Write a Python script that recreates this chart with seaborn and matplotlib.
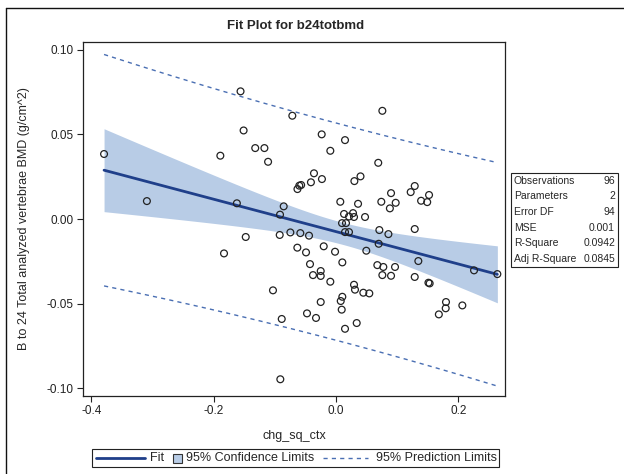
import matplotlib
matplotlib.use("Agg")
import matplotlib.pyplot as plt
from matplotlib.lines import Line2D
from matplotlib.patches import Rectangle
import seaborn as sns
import numpy as np
import pandas as pd

# ---------------- DATA ----------------
chg_sq_ctx = [
    -0.379, -0.309, -0.189, -0.156, -0.0714, -0.151, -0.0234, 0.0147, -0.132, -0.117,
    -0.0093, -0.111, -0.036, -0.041, -0.023, -0.063, -0.060, -0.057, 0.030, 0.040,
    -0.162, -0.0855, -0.0915, 0.007, 0.036, 0.0131, 0.0212, 0.0278, 0.0294, 0.0474,
    0.0098, 0.0163, 0.0147, 0.0212, 0.0757, 0.069, 0.0899, 0.122, 0.1286, 0.139,
    0.149, 0.152, 0.074, 0.088, 0.0975, 0.0708, 0.0856, 0.1286, 0.0697, 0.0495,
    0.0103, 0.0675, 0.0773, 0.0757, 0.0899, 0.0964, 0.1345, 0.1286, 0.151, 0.153,
    0.2255, 0.2636, 0.0294, 0.031, 0.0446, 0.0544, 0.1797, 0.1792, 0.168, 0.2064,
    0.0103, 0.0077, 0.0093, 0.0338, 0.0147, -0.1475, -0.183, -0.092, -0.0746, -0.0583,
    -0.0441, -0.0632, -0.049, -0.0201, -0.0016, -0.0425, -0.0376, -0.025, -0.025, -0.0093,
    -0.103, -0.025, -0.0474, -0.0327, -0.0887, -0.091,
]
b24totbmd = [
    0.0384, 0.0106, 0.0374, 0.0754, 0.061, 0.0523, 0.050, 0.0466, 0.0419, 0.0419,
    0.0403, 0.0338, 0.027, 0.0217, 0.0236, 0.0177, 0.0197, 0.0201, 0.0224, 0.0252,
    0.0093, 0.0075, 0.0026, 0.0102, 0.009, 0.0030, 0.0015, 0.0035, 0.0012, 0.0012,
    -0.0024, -0.0024, -0.0077, -0.0077, 0.0639, 0.0332, 0.0153, 0.0159, 0.0195, 0.0108,
    0.010, 0.0142, 0.0102, 0.0063, 0.0096, -0.0065, -0.0089, -0.0059, -0.0146, -0.0187,
    -0.0256, -0.0272, -0.0283, -0.0331, -0.0335, -0.0283, -0.0248, -0.0342, -0.0376, -0.0380,
    -0.0303, -0.0325, -0.0388, -0.0417, -0.0435, -0.0439, -0.049, -0.0527, -0.0563, -0.051,
    -0.0459, -0.0484, -0.0535, -0.0614, -0.0648, -0.0106, -0.0203, -0.0094, -0.0079, -0.0083,
    -0.0098, -0.0169, -0.0197, -0.0161, -0.0193, -0.0266, -0.0331, -0.0307, -0.0336, -0.037,
    -0.0421, -0.049, -0.0557, -0.0584, -0.059, -0.0946,
]

stat_labels = ["Observations", "Parameters", "Error DF", "MSE", "R-Square", "Adj R-Square"]
stat_values = ["96", "2", "94", "0.001", "0.0942", "0.0845"]
legend_labels = ["Fit", "95% Confidence Limits", "95% Prediction Limits"]

x_ticks = [-0.4, -0.2, 0.0, 0.2]
y_ticks = [-0.10, -0.05, 0.00, 0.05, 0.10]

FIT_COLOR = "#1f3f8a"
BAND_COLOR = "#b8cce6"
PRED_COLOR = "#4a6fb3"
W, H = 624, 474


def fx(px):
    return px / W


def fy(py):
    return 1 - py / H


# ---------------- FIT (OLS with 95% limits) ----------------
df = pd.DataFrame({"chg_sq_ctx": chg_sq_ctx, "b24totbmd": b24totbmd})
x = df["chg_sq_ctx"].to_numpy()
y = df["b24totbmd"].to_numpy()
n = len(x)
slope, intercept = np.polyfit(x, y, 1)
resid = y - (intercept + slope * x)
s = np.sqrt(np.sum(resid ** 2) / (n - 2))
sxx = np.sum((x - x.mean()) ** 2)
t_crit = 1.9855  # t(0.975, 94)

grid = np.linspace(x.min(), x.max(), 200)
fit = intercept + slope * grid
se_mean = s * np.sqrt(1 / n + (grid - x.mean()) ** 2 / sxx)
se_pred = s * np.sqrt(1 + 1 / n + (grid - x.mean()) ** 2 / sxx)
fit_df = pd.DataFrame({
    "x": grid,
    "fit": fit,
    "lcl": fit - t_crit * se_mean,
    "ucl": fit + t_crit * se_mean,
    "lpl": fit - t_crit * se_pred,
    "upl": fit + t_crit * se_pred,
})

# ---------------- PLOT ----------------
sns.set_theme(style="white")
plt.rcParams["font.family"] = ["Liberation Sans", "DejaVu Sans"]

fig = plt.figure(figsize=(6.24, 4.74), dpi=100)
ax = fig.add_axes([0.1335, 0.1652, 0.6758, 0.7468])

ax.fill_between(fit_df["x"], fit_df["lcl"], fit_df["ucl"], color=BAND_COLOR, linewidth=0, zorder=1)
sns.lineplot(data=fit_df, x="x", y="upl", ax=ax, color=PRED_COLOR, linestyle=(0, (3, 3)), linewidth=1.0, zorder=2)
sns.lineplot(data=fit_df, x="x", y="lpl", ax=ax, color=PRED_COLOR, linestyle=(0, (3, 3)), linewidth=1.0, zorder=2)
sns.lineplot(data=fit_df, x="x", y="fit", ax=ax, color=FIT_COLOR, linewidth=2.0, zorder=3)
sns.scatterplot(data=df, x="chg_sq_ctx", y="b24totbmd", ax=ax, marker="o", s=24,
                facecolor="none", edgecolor="#222222", linewidth=0.9, zorder=4)

ax.set_xlim(-0.4129, 0.2761)
ax.set_ylim(-0.1043, 0.1047)
ax.set_xticks(x_ticks)
ax.set_xticklabels([f"{v:.1f}" for v in x_ticks])
ax.set_yticks(y_ticks)
ax.set_yticklabels([f"{v:.2f}" for v in y_ticks])
ax.tick_params(axis="both", direction="out", length=4, width=0.8, colors="#222222",
               labelsize=8.5, bottom=True, left=True, pad=3)
for sp in ax.spines.values():
    sp.set_color("#222222")
    sp.set_linewidth(0.9)

ax.set_xlabel("chg_sq_ctx", fontsize=9, labelpad=9)
ax.set_ylabel("B to 24 Total analyzed vertebrae BMD (g/cm^2)", fontsize=9, labelpad=12)
fig.text(0.473, fy(26), "Fit Plot for b24totbmd", ha="center", va="center",
         fontsize=9.5, fontweight="bold")

# ---------------- STATS BOX ----------------
bx0, bx1 = fx(511), fx(618)
by_top, by_bot = fy(172.7), fy(266.7)
fig.add_artist(Rectangle((bx0, by_bot), bx1 - bx0, by_top - by_bot, transform=fig.transFigure,
                         facecolor="white", edgecolor="#222222", linewidth=0.8))
row_h = (by_top - by_bot) / len(stat_labels)
for i, (lab, val) in enumerate(zip(stat_labels, stat_values)):
    yy = by_top - (i + 0.5) * row_h
    fig.text(bx0 + fx(3), yy, lab, ha="left", va="center", fontsize=7.5)
    fig.text(bx1 - fx(3), yy, val, ha="right", va="center", fontsize=7.5)

# ---------------- LEGEND (drawn by hand, SAS style) ----------------
ly = fy(458)
fig.add_artist(Rectangle((fx(92), fy(467)), fx(499) - fx(92), fy(449) - fy(467),
                         transform=fig.transFigure, facecolor="white",
                         edgecolor="#222222", linewidth=0.8))
fig.add_artist(Line2D([fx(96), fx(145)], [ly, ly], transform=fig.transFigure,
                      color=FIT_COLOR, linewidth=2.0))
fig.text(fx(150), ly, legend_labels[0], ha="left", va="center", fontsize=9)
fig.add_artist(Rectangle((fx(173), fy(462.5)), fx(9), fy(453.5) - fy(462.5),
                         transform=fig.transFigure, facecolor=BAND_COLOR,
                         edgecolor="#333333", linewidth=0.8))
fig.text(fx(186), ly, legend_labels[1], ha="left", va="center", fontsize=9)
fig.add_artist(Line2D([fx(323), fx(368)], [ly, ly], transform=fig.transFigure,
                      color=PRED_COLOR, linewidth=1.0, linestyle=(0, (3, 3))))
fig.text(fx(376), ly, legend_labels[2], ha="left", va="center", fontsize=9)

# ---------------- OUTER BORDER ----------------
fig.add_artist(Line2D([fx(6), 1], [fy(8), fy(8)], transform=fig.transFigure,
                      color="#111111", linewidth=1.0))
fig.add_artist(Line2D([fx(6), fx(6)], [0, fy(8)], transform=fig.transFigure,
                      color="#111111", linewidth=1.0))

fig.savefig("out.png", dpi=100)
plt.close(fig)
